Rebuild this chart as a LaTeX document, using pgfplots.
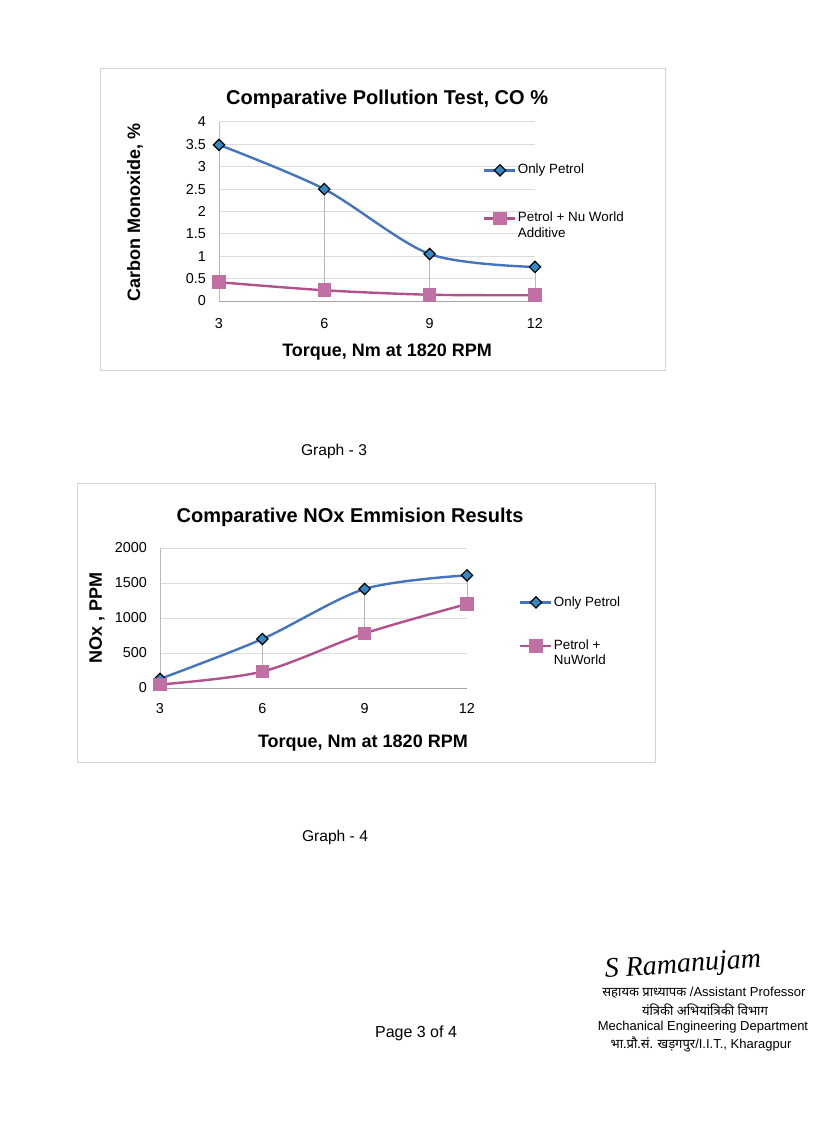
\documentclass[border=0pt]{standalone}
\usepackage{pgfplots}
\pgfplotsset{compat=1.18}
\usepackage{fontspec}
\setmainfont{Liberation Sans}
\newfontfamily\deva[Script=Devanagari]{Noto Sans}
\newfontfamily\sigfont{Liberation Serif}

\definecolor{petrol}{RGB}{68,116,188}
\definecolor{petrolmark}{RGB}{50,138,196}
\definecolor{nuline}{RGB}{178,82,140}
\definecolor{numark}{RGB}{192,112,162}
\definecolor{gridgray}{RGB}{220,220,220}
\definecolor{axisgray}{RGB}{165,165,165}
\definecolor{framegray}{RGB}{212,212,212}

\pgfplotsset{
  excelchart/.style={
    scale only axis, anchor=south west,
    axis x line=bottom, axis y line=left, axis line style={-},
    x axis line style={axisgray}, y axis line style={gridgray!85!black},
    major tick length=0pt,
    ymajorgrids, grid style={gridgray, line width=0.5pt},
    tick label style={font=\fontsize{7.2}{8}\selectfont},
    /pgf/number format/assume math mode=true,
    /pgf/number format/1000 sep={},
    yticklabel style={xshift=-3pt},
    label style={font=\fontsize{9}{11}\selectfont\bfseries},
    title style={font=\fontsize{10}{12}\selectfont\bfseries},
    legend cell align=left,
    legend image code/.code={\draw[mark repeat=2,mark phase=2,#1]
      plot coordinates {(0pt,0pt)(7.75pt,0pt)(15.5pt,0pt)};},
    clip=false,
  },
  petrolstyle/.style={petrol, line width=1.2pt, smooth, mark=square*,
    mark size=2pt, mark options={rotate=45, fill=petrolmark, draw=black, line width=0.6pt, solid}},
  nustyle/.style={nuline, line width=1.2pt, smooth, mark=square*,
    mark size=2.8pt, mark options={fill=numark, draw=numark, solid}},
}

\begin{document}
\begin{tikzpicture}
\begin{scope}[x=0.5pt,y=-0.5pt]
  \fill[white] (0,0) rectangle (827,1134);
  \useasboundingbox (0,0) rectangle (827,1134);
  \draw[framegray, line width=0.4pt] (100,68) rectangle (665,370);
  \draw[framegray, line width=0.4pt] (77,483) rectangle (655,762);
  \node[font=\fontsize{7.8}{9}\selectfont] at (334,451) {Graph - 3};
  \node[font=\fontsize{7.8}{9}\selectfont] at (335,837) {Graph - 4};
  \node[font=\fontsize{8}{9}\selectfont] at (416,1033) {Page 3 of 4};
  \node[font=\sigfont\itshape\fontsize{14}{16}\selectfont, rotate=4] at (683,966) {S Ramanujam};
  \node[font=\fontsize{6.5}{8}\selectfont] at (704,993) {{\deva सहायक प्राध्यापक} /Assistant Professor};
  \node[font=\deva\fontsize{6.5}{8}\selectfont] at (705,1010) {यंत्रिकी अभियांत्रिकी विभाग};
  \node[font=\fontsize{6.5}{8}\selectfont] at (703,1027) {Mechanical Engineering Department};
  \node[font=\fontsize{6.5}{8}\selectfont] at (701,1044) {{\deva भा.प्रौ.सं. खड़गपुर}/I.I.T., Kharagpur};
\end{scope}

% Graph 3: CO %
\begin{axis}[excelchart,
  at={(109.5pt,-150.5pt)}, width=158pt, height=89.5pt,
  xmin=3, xmax=12, ymin=0, ymax=4,
  xtick={3,6,9,12}, ytick={0,0.5,...,4},
  xticklabel style={yshift=-5pt},
  title={Comparative Pollution Test, CO \%},
  title style={at={(axis description cs:0.532,1.14)}, anchor=center, yshift=-7pt},
  xlabel={Torque, Nm at 1820 RPM},
  xlabel style={at={(axis description cs:0.532,-0.285)}, anchor=center},
  ylabel={Carbon Monoxide, \%},
  ylabel style={at={(axis description cs:-0.266,0.492)}, anchor=center},
  legend style={at={(axis description cs:0.835,0.777)}, anchor=north west,
    draw=none, fill=none, inner sep=0pt, row sep=0pt,
    font=\fontsize{6.7}{8}\selectfont,
    nodes={text height=5.2pt, text depth=1.6pt, inner sep=0.6pt}},
]
\addplot[axisgray!80, line width=0.4pt, unbounded coords=jump, forget plot]
  coordinates {(3,0.42)(3,3.49) (3,nan) (6,0.24)(6,2.50) (6,nan)
               (9,0.14)(9,1.05) (9,nan) (12,0.13)(12,0.76)};
\addplot[petrolstyle, forget plot] coordinates {(3,3.49)(6,2.50)(9,1.05)(12,0.76)};
\addplot[nustyle, forget plot] coordinates {(3,0.42)(6,0.24)(9,0.14)(12,0.13)};
\addlegendimage{petrolstyle}
\addlegendentry{Only Petrol}
\addlegendimage{empty legend}
\addlegendentry{}
\addlegendimage{empty legend}
\addlegendentry{}
\addlegendimage{nustyle}
\addlegendentry{Petrol + Nu World}
\addlegendimage{empty legend}
\addlegendentry{Additive}
\end{axis}

% Graph 4: NOx
\begin{axis}[excelchart,
  at={(80pt,-344pt)}, width=153.5pt, height=70pt,
  xmin=3, xmax=12, ymin=0, ymax=2000,
  xtick={3,6,9,12}, ytick={0,500,...,2000},
  xticklabel style={yshift=-4pt},
  title={Comparative NOx Emmision Results},
  title style={at={(axis description cs:0.619,1.236)}, anchor=center, yshift=-7pt},
  xlabel={Torque, Nm at 1820 RPM},
  xlabel style={at={(axis description cs:0.661,-0.393)}, anchor=center},
  ylabel={NOx , PPM},
  ylabel style={at={(axis description cs:-0.205,0.5)}, anchor=center},
  legend style={at={(axis description cs:1.169,0.666)}, anchor=north west,
    draw=none, fill=none, inner sep=0pt, row sep=0pt,
    font=\fontsize{6.7}{8}\selectfont,
    nodes={text height=4.9pt, text depth=1.15pt, inner sep=0.6pt}},
]
\addplot[axisgray!80, line width=0.4pt, unbounded coords=jump, forget plot]
  coordinates {(6,235)(6,700) (6,nan) (9,780)(9,1415) (9,nan) (12,1200)(12,1610)};
\addplot[petrolstyle, forget plot] coordinates {(3,130)(6,700)(9,1415)(12,1610)};
\addplot[nustyle, forget plot] coordinates {(3,50)(6,235)(9,780)(12,1200)};
\addlegendimage{petrolstyle}
\addlegendentry{Only Petrol}
\addlegendimage{empty legend}
\addlegendentry{}
\addlegendimage{empty legend}
\addlegendentry{}
\addlegendimage{nustyle}
\addlegendentry{Petrol +}
\addlegendimage{empty legend}
\addlegendentry{NuWorld}
\end{axis}
\end{tikzpicture}
\end{document}
